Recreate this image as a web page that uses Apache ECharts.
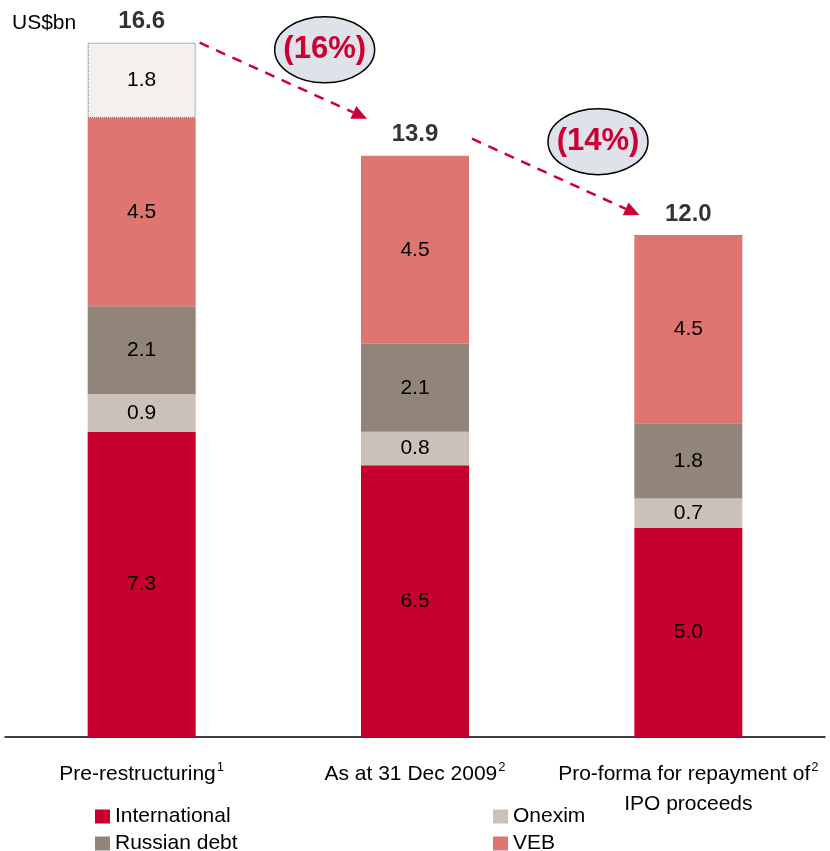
<!DOCTYPE html>
<html>
<head>
<meta charset="utf-8">
<script src="https://cdn.jsdelivr.net/npm/echarts@6/dist/echarts.min.js"></script>
<style>
  html, body { margin: 0; padding: 0; background: #fff; }
  #chart { width: 830px; height: 851px; }
</style>
</head>
<body>
<div id="chart"></div>
<script>
const categories = ['Pre-restructuring', 'As at 31 Dec 2009', 'Pro-forma for repayment of'];
const footnotes = ['1', '2', '2'];
const international = [7.3, 6.5, 5.0];
const onexim = [0.9, 0.8, 0.7];
const russianDebt = [2.1, 2.1, 1.8];
const veb = [4.5, 4.5, 4.5];
const other = [1.8, '-', '-'];
const totals = [16.6, 13.9, 12.0];
const changes = ['(16%)', '(14%)'];

const font = '"Liberation Sans", Arial, sans-serif';
const red = '#CC0033';

const chart = echarts.init(document.getElementById('chart'));

const valueLabel = {
  show: true,
  position: 'inside',
  color: '#000',
  fontFamily: font,
  fontSize: 21,
  formatter: (p) => Number(p.value).toFixed(1)
};

function segment(name, data, itemStyle) {
  return {
    name: name,
    type: 'bar',
    stack: 'debt',
    barWidth: 108,
    data: data,
    itemStyle: itemStyle,
    label: valueLabel
  };
}

function legendBlock(names, left) {
  return {
    data: names,
    orient: 'vertical',
    left: left,
    top: 806,
    height: 60,
    padding: 0,
    itemWidth: 15,
    itemHeight: 14,
    itemGap: 6,
    icon: 'rect',
    textStyle: { fontFamily: font, fontSize: 21, lineHeight: 20, color: '#000' }
  };
}

// arrow / ellipse placement relative to the bar totals (pixels)
const arrowStart = [[58, 0], [57, -17]];
const arrowEnd = [[-48, -37], [-49, -20]];
const ovalCenter = [[183, 7], [183, -14]];

chart.setOption({
  backgroundColor: '#fff',
  animation: false,
  grid: { left: 5, right: 5, top: 26, bottom: 114 },
  xAxis: {
    type: 'category',
    data: categories,
    axisTick: { show: false },
    axisLine: { lineStyle: { color: '#000', width: 1.5 } },
    axisLabel: {
      interval: 0,
      margin: 22,
      color: '#000',
      fontFamily: font,
      fontSize: 21,
      lineHeight: 30,
      formatter: (v, i) => i === 2
        ? v + '{sup|' + footnotes[i] + '}\nIPO proceeds'
        : v + '{sup|' + footnotes[i] + '}',
      rich: {
        sup: { fontSize: 13, fontFamily: font, color: '#000', padding: [0, 0, 14, 1] }
      }
    }
  },
  yAxis: { type: 'value', min: 0, max: 17, show: false },
  legend: [
    legendBlock(['International', 'Russian debt'], 95),
    legendBlock(['Onexim', 'VEB'], 493)
  ],
  graphic: [
    { type: 'text', left: 12, top: 13, style: { text: 'US$bn', fontFamily: font, fontSize: 21, fill: '#000' } }
  ],
  series: [
    segment('International', international, { color: '#C8002D' }),
    segment('Onexim', onexim, { color: '#C9C1BA' }),
    segment('Russian debt', russianDebt, { color: '#918579' }),
    segment('VEB', veb, { color: '#DF7570' }),
    segment('Other', other, { color: '#F3F0EE', borderColor: '#666', borderWidth: 1, borderType: 'dotted' }),
    {
      name: 'Total',
      type: 'scatter',
      symbolSize: 0,
      data: totals.map((t, i) => [i, t]),
      label: {
        show: true,
        position: 'top',
        distance: 9,
        color: '#000',
        fontFamily: font,
        fontSize: 24,
        fontWeight: 'bold',
        formatter: (p) => p.value[1].toFixed(1)
      },
      z: 5
    },
    {
      name: 'Change',
      type: 'custom',
      data: changes.map((c, i) => [i, totals[i]]),
      z: 6,
      renderItem: function (params, api) {
        const i = params.dataIndex;
        const p0 = api.coord([i, totals[i]]);
        const p1 = api.coord([i + 1, totals[i + 1]]);
        const x0 = p0[0] + arrowStart[i][0], y0 = p0[1] + arrowStart[i][1];
        const x1 = p1[0] + arrowEnd[i][0], y1 = p1[1] + arrowEnd[i][1];
        const ang = Math.atan2(y1 - y0, x1 - x0);
        const head = 15, half = 7;
        const bx = x1 - head * Math.cos(ang), by = y1 - head * Math.sin(ang);
        const nx = -Math.sin(ang), ny = Math.cos(ang);
        const cx = p0[0] + ovalCenter[i][0], cy = p0[1] + ovalCenter[i][1];
        return {
          type: 'group',
          children: [
            {
              type: 'line',
              shape: { x1: x0, y1: y0, x2: bx, y2: by },
              style: { stroke: red, lineWidth: 2.5, lineDash: [10, 8] }
            },
            {
              type: 'polygon',
              shape: { points: [[x1, y1], [bx + nx * half, by + ny * half], [bx - nx * half, by - ny * half]] },
              style: { fill: red }
            },
            {
              type: 'ellipse',
              shape: { cx: cx, cy: cy, rx: 50, ry: 33 },
              style: { fill: '#DDE3E8', stroke: '#000', lineWidth: 1.5 }
            },
            {
              type: 'text',
              x: cx, y: cy,
              style: {
                text: changes[i], fill: red, fontFamily: font, fontSize: 31, fontWeight: 'bold',
                align: 'center', verticalAlign: 'middle'
              }
            }
          ]
        };
      }
    }
  ]
});
</script>
</body>
</html>
